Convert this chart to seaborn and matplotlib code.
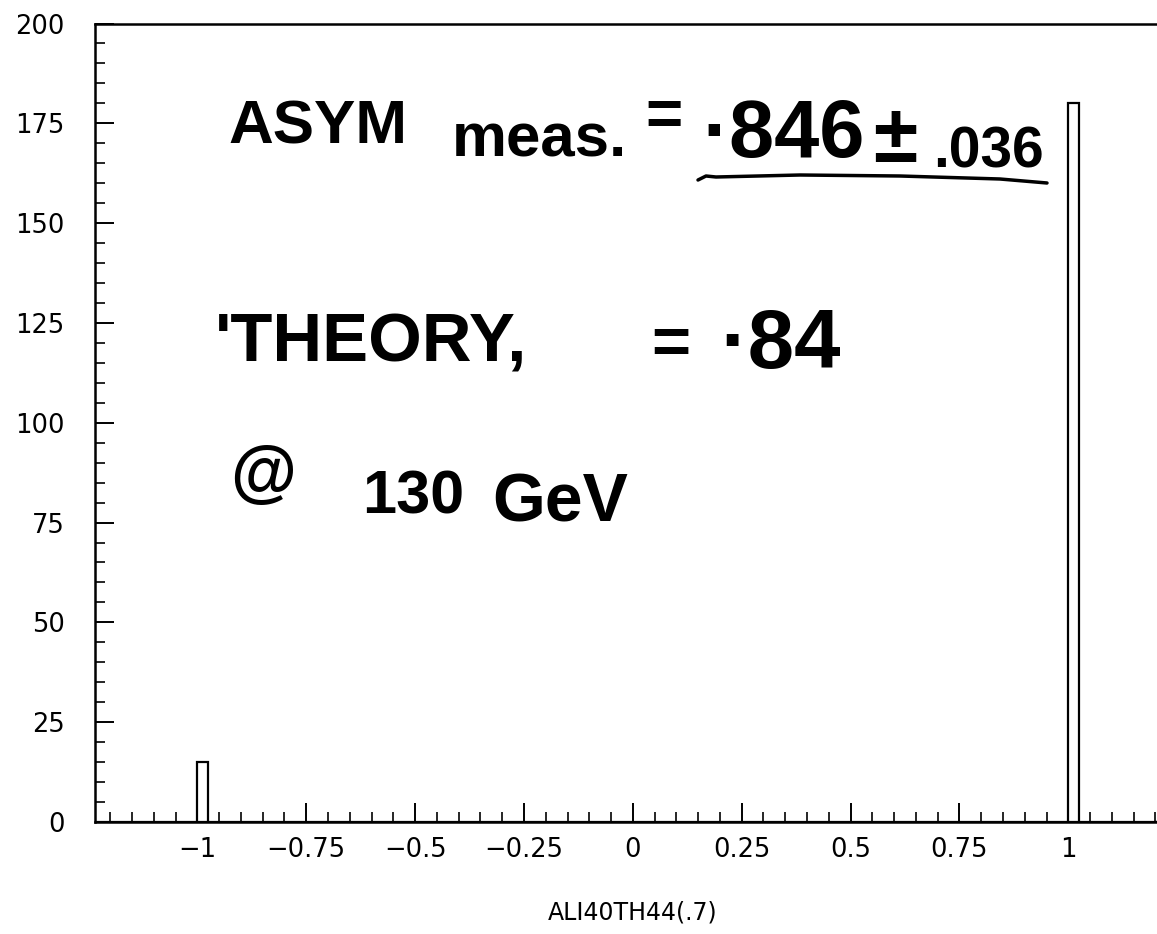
import numpy as np
import pandas as pd
import matplotlib
matplotlib.use("Agg")
import matplotlib.pyplot as plt
from matplotlib.ticker import FixedLocator, FixedFormatter, MultipleLocator
from matplotlib.lines import Line2D
import seaborn as sns

# ---------------- data ----------------
bin_left = [-1.0, 1.0]          # left edges of the filled bins
counts = [15, 180]              # entries in those bins
bin_width = 0.025
x_ticks = [-1, -0.75, -0.5, -0.25, 0, 0.25, 0.5, 0.75, 1]
x_tick_labels = ["\u22121", "\u22120.75", "\u22120.5", "\u22120.25", "0", "0.25", "0.5", "0.75", "1"]
y_ticks = [0, 25, 50, 75, 100, 125, 150, 175, 200]
y_tick_labels = ["0", "25", "50", "75", "100", "125", "150", "175", "200"]
x_label = "ALI40TH44(.7)"

df = pd.DataFrame({"x": np.array(bin_left) + bin_width / 2, "n": counts})

sns.set_style("ticks")
plt.rcParams["font.family"] = ["DejaVu Sans"]
plt.rcParams["text.color"] = "black"
plt.rcParams["axes.labelcolor"] = "black"

W, H = 1157, 934
fig = plt.figure(figsize=(W / 100, H / 100), dpi=100)
L, B, T = 95, 822, 23.5
xlo, xhi = -1.235, 1.235
ppu = 435.5
ax = fig.add_axes([L / W, (H - B) / H, (xhi - xlo) * ppu / W, (B - T) / H])

sns.histplot(data=df, x="x", weights="n", binwidth=bin_width, binrange=(-1.25, 1.25),
             fill=False, element="bars", color="black", linewidth=1.6, ax=ax)

ax.set_xlim(xlo, xhi)
ax.set_ylim(0, 200)
ax.xaxis.set_major_locator(FixedLocator(x_ticks))
ax.xaxis.set_major_formatter(FixedFormatter(x_tick_labels))
ax.xaxis.set_minor_locator(MultipleLocator(0.05))
ax.yaxis.set_major_locator(FixedLocator(y_ticks))
ax.yaxis.set_major_formatter(FixedFormatter(y_tick_labels))
ax.yaxis.set_minor_locator(MultipleLocator(5))

ax.tick_params(axis="both", which="major", direction="in", length=14, width=1.4,
               labelsize=18.5, colors="black")
ax.tick_params(axis="both", which="minor", direction="in", length=7, width=1.4)
ax.tick_params(axis="x", which="both", top=False, pad=11)
ax.tick_params(axis="y", which="both", right=False, pad=22)
for s in ["left", "bottom", "top", "right"]:
    ax.spines[s].set_linewidth(1.8)
    ax.spines[s].set_color("black")
ax.set_ylabel("")
ax.set_xlabel(x_label, fontsize=17, labelpad=27, color="black")

# ---------------- handwritten annotations ----------------
hf = ["Liberation Sans", "DejaVu Sans"]
renderer = fig.canvas.get_renderer()

def hw(x0, x1, base, s, maxsize, eq_center=None):
    t = fig.text(x0 / W, 1 - base / H, s, fontsize=20, fontweight="bold", family=hf,
                 ha="left", va="baseline", color="black")
    w = t.get_window_extent(renderer).width
    size = min(maxsize, 20 * (x1 - x0) / w)
    t.set_fontsize(size)
    if eq_center is not None:
        px = size * 100 / 72
        t.set_y(1 - (eq_center + 0.36 * px) / H)
    return t

hw(228, 407, 143, "ASYM", 62)
hw(452, 627, 157, "meas.", 62)
hw(645, 682, 0, "=", 54, eq_center=112)
hw(702, 864, 157, "\u00b7846", 70)
hw(873, 920, 162, "\u00b1", 58)
hw(933, 1044, 168, ".036", 52)
fig.add_artist(Line2D(np.array([698, 706, 716, 800, 900, 1000, 1047]) / W,
                      1 - np.array([180, 176, 177, 175, 176, 179, 183]) / H,
                      color="black", linewidth=2.5))

hw(215, 527, 362, "'THEORY,", 52)
hw(651, 690, 0, "=", 50, eq_center=340)
hw(720, 848, 368, "\u00b784", 60)

hw(230, 296, 494, "@", 60)
hw(362, 464, 514, "130", 58)
hw(492, 628, 521, "GeV", 62)

fig.savefig("out.png", dpi=100)
